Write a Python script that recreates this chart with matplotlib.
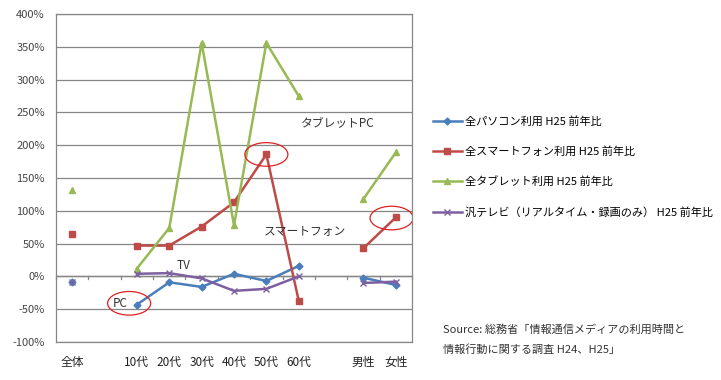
import numpy as np
import matplotlib
matplotlib.use('Agg')
import matplotlib.pyplot as plt
from matplotlib.patches import Ellipse

plt.rcParams['font.family'] = ['Noto Sans CJK JP', 'DejaVu Sans']

# categories (blank slots separate the groups)
categories = ['全体', '', '10代', '20代', '30代', '40代', '50代', '60代', '', '男性', '女性']

nan = np.nan
pc = [-8, nan, -43, -9, -16, 4, -7, 16, nan, -2, -13]
smartphone = [64, nan, 47, 47, 76, 113, 186, -37, nan, 43, 90]
tablet = [131, nan, 12, 74, 356, 78, 356, 275, nan, 118, 189]
tv = [-8, nan, 4, 5, -3, -22, -19, 0, nan, -10, -8]

series_labels = ['全パソコン利用 H25 前年比',
                 '全スマートフォン利用 H25 前年比',
                 '全タブレット利用 H25 前年比',
                 '汎テレビ（リアルタイム・録画のみ） H25 前年比']

yticks = [-100, -50, 0, 50, 100, 150, 200, 250, 300, 350, 400]

# callouts: (text, x, y)
callouts = [('タブレットPC', 8.2, 234), ('スマートフォン', 7.2, 69),
            ('TV', 3.45, 16), ('PC', 1.5, -42)]
# red circles: (x, y)
circles = [(1.76, -41), (6.0, 186), (9.87, 89)]

grey = '#868686'

fig = plt.figure(figsize=(7.21, 3.8), dpi=100)
ax = fig.add_axes([0.0777, 0.1, 0.4937, 0.863])

x = np.arange(len(categories))
ax.plot(x, pc, color='#4A7EBB', marker='D', markersize=3.5, lw=1.8, label=series_labels[0], zorder=4)
ax.plot(x, smartphone, color='#BE4B48', marker='s', markersize=5, lw=1.8, label=series_labels[1], zorder=4)
ax.plot(x, tablet, color='#98B954', marker='^', markersize=5, lw=1.8, label=series_labels[2], zorder=4)
ax.plot(x, tv, color='#7D60A0', marker='x', markersize=5, mew=1, lw=1.8, label=series_labels[3], zorder=4)

ax.set_xlim(-0.5, len(categories) - 0.5)
ax.set_ylim(-100, 400)
ax.set_yticks(yticks)
ax.set_yticklabels([f'{v}%' for v in yticks], fontsize=8, color='#444444')
ax.yaxis.grid(True, color=grey, lw=0.9)
ax.set_axisbelow(True)
ax.tick_params(axis='y', length=0, pad=8)
ax.set_xticks(x)
ax.set_xticklabels(categories, fontsize=8.5, color='#222222')
ax.tick_params(axis='x', length=0, pad=10)
for s in ax.spines.values():
    s.set_color(grey)
    s.set_linewidth(0.9)

# category axis at 0 with tick marks between categories
ax.axhline(0, color=grey, lw=1.0, zorder=2)
for b in np.arange(len(categories) + 1) - 0.5:
    ax.plot([b, b], [0, -4], color=grey, lw=0.9, zorder=2, clip_on=False)

for txt, tx, ty in callouts:
    ax.text(tx, ty, txt, fontsize=8.5, color='#333333', ha='center', va='center', zorder=5)

for cx, cy in circles:
    ax.add_patch(Ellipse((cx, cy), width=1.33, height=36,
                         fill=False, edgecolor='#E02020', lw=0.9, zorder=5))

ax.legend(loc='center left', bbox_to_anchor=(1.03, 0.535), frameon=False,
          fontsize=8, handlelength=2.6, labelspacing=1.75, handletextpad=0.3)

fig.text(0.614, 0.134, 'Source: 総務省「情報通信メディアの利用時間と', fontsize=8, color='#333333', va='center')
fig.text(0.614, 0.079, '情報行動に関する調査 H24、H25」', fontsize=8, color='#333333', va='center')

fig.savefig('out.png', dpi=100)
